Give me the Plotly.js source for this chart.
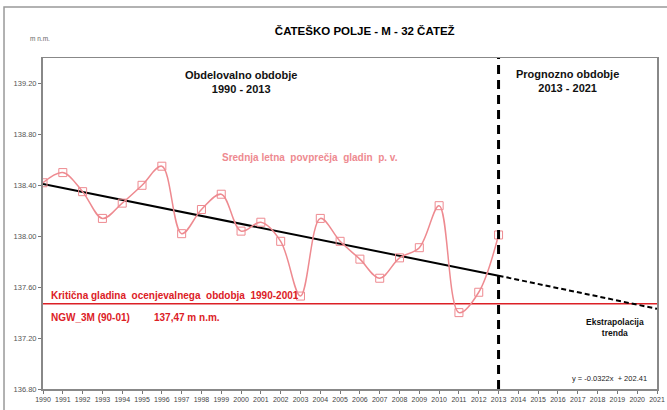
<!DOCTYPE html>
<html>
<head>
<meta charset="utf-8">
<script src="https://cdn.plot.ly/plotly-3.0.1.min.js"></script>
<style>
  html, body { margin: 0; padding: 0; background: #fff; }
  #chart { width: 667px; height: 410px; }
</style>
</head>
<body>
<div id="chart"></div>
<script>
// ---- data ----
const years = [1990,1991,1992,1993,1994,1995,1996,1997,1998,1999,2000,2001,2002,2003,2004,2005,2006,2007,2008,2009,2010,2011,2012,2013];
const levels = [138.42,138.50,138.35,138.14,138.26,138.40,138.55,138.02,138.21,138.33,138.04,138.11,137.96,137.53,138.14,137.96,137.82,137.67,137.83,137.91,138.24,137.40,137.56,138.01];
const trendYears = [1990, 2013];
const trendValues = [138.41, 137.69];
const extrapYears = [2013, 2021];
const extrapValues = [137.69, 137.43];
const criticalYears = [1990, 2021];
const criticalValues = [137.47, 137.47];
const boundaryYear = [2013];

const FONT = 'Liberation Sans, Arial, sans-serif';
const PINK = '#EE8A90';
const RED = '#DC2026';

const traces = [
  { x: criticalYears, y: criticalValues, mode: 'lines', line: { color: RED, width: 1.6 }, hoverinfo: 'skip' },
  { x: trendYears, y: trendValues, mode: 'lines', line: { color: '#000', width: 2 }, hoverinfo: 'skip' },
  { x: extrapYears, y: extrapValues, mode: 'lines', line: { color: '#000', width: 2, dash: '5px,3px' }, hoverinfo: 'skip' },
  { x: years, y: levels, mode: 'lines+markers',
    line: { color: PINK, width: 1.5, shape: 'spline', smoothing: 1 },
    marker: { symbol: 'square-open', size: 8, color: PINK, line: { width: 1, color: PINK } } }
];

const ann = (x, y, text, opts) => Object.assign({ x: x, y: y, xref: 'x', yref: 'y', text: text, showarrow: false }, opts);

const layout = {
  width: 667, height: 410,
  margin: { l: 43, r: 10, t: 58, b: 21 },
  paper_bgcolor: '#fff', plot_bgcolor: '#fff',
  showlegend: false,
  title: { text: '<b>ČATEŠKO POLJE - M - 32 ČATEŽ</b>', font: { family: FONT, size: 11.5, color: '#000' },
           x: 0.524, xref: 'paper', xanchor: 'center', y: 0.924, yref: 'container', yanchor: 'middle' },
  xaxis: { range: [1990, 2021], tickmode: 'linear', tick0: 1990, dtick: 1, showgrid: false, zeroline: false,
           ticks: 'outside', ticklen: 3, tickcolor: '#777', showline: true, linecolor: '#888', linewidth: 1.5,
           tickfont: { family: FONT, size: 7, color: '#444' }, mirror: true, fixedrange: true },
  yaxis: { range: [136.8, 139.4], tickmode: 'linear', tick0: 136.8, dtick: 0.4, tickformat: '.2f', showgrid: false, zeroline: false,
           ticks: 'outside', ticklen: 3, tickcolor: '#777', showline: true, linecolor: '#888', linewidth: 2,
           tickfont: { family: FONT, size: 7.5, color: '#555' }, mirror: true, fixedrange: true },
  shapes: [
    { type: 'line', xref: 'x', yref: 'paper', x0: boundaryYear[0], x1: boundaryYear[0], y0: 0, y1: 1,
      line: { color: '#000', width: 3, dash: '9px,6px' } },
    { type: 'rect', xref: 'paper', yref: 'paper', x0: -0.0635, x1: 1.06, y0: -0.09, y1: 1.154,
      line: { color: '#999', width: 1.5 }, fillcolor: 'rgba(0,0,0,0)', layer: 'below' }
  ],
  annotations: [
    { xref: 'paper', yref: 'paper', x: -0.024, y: 1.0755, text: 'm n.m.', showarrow: false,
      font: { family: FONT, size: 6.5, color: '#666666' } },
    ann(2000.0, 139.213, '<b>Obdelovalno obdobje<br>1990 - 2013</b>', { font: { family: FONT, size: 11, color: '#111' } }),
    ann(2016.46, 139.22, '<b>Prognozno obdobje<br>2013 - 2021</b>', { font: { family: FONT, size: 11, color: '#111' } }),
    ann(2003.48, 138.622, '<b>Srednja letna  povprečja  gladin  p. v.</b>', { font: { family: FONT, size: 10, color: PINK } }),
    ann(1990.3, 137.538, '<b>Kritična gladina  ocenjevalnega  obdobja  1990-2001</b>', { xanchor: 'left', font: { family: FONT, size: 10, color: RED } }),
    ann(1990.3, 137.358, '<b>NGW_3M (90-01)</b>', { xanchor: 'left', font: { family: FONT, size: 10, color: RED } }),
    ann(1995.5, 137.358, '<b>137,47 m n.m.</b>', { xanchor: 'left', font: { family: FONT, size: 10, color: RED } }),
    ann(2018.88, 137.287, '<b>Ekstrapolacija<br>trenda</b>', { font: { family: FONT, size: 8.5, color: '#111' } }),
    ann(2018.58, 136.886, 'y = -0.0322x  + 202.41', { font: { family: FONT, size: 7.5, color: '#222' } })
  ]
};

Plotly.newPlot('chart', traces, layout, { displayModeBar: false, staticPlot: true });
</script>
</body>
</html>
